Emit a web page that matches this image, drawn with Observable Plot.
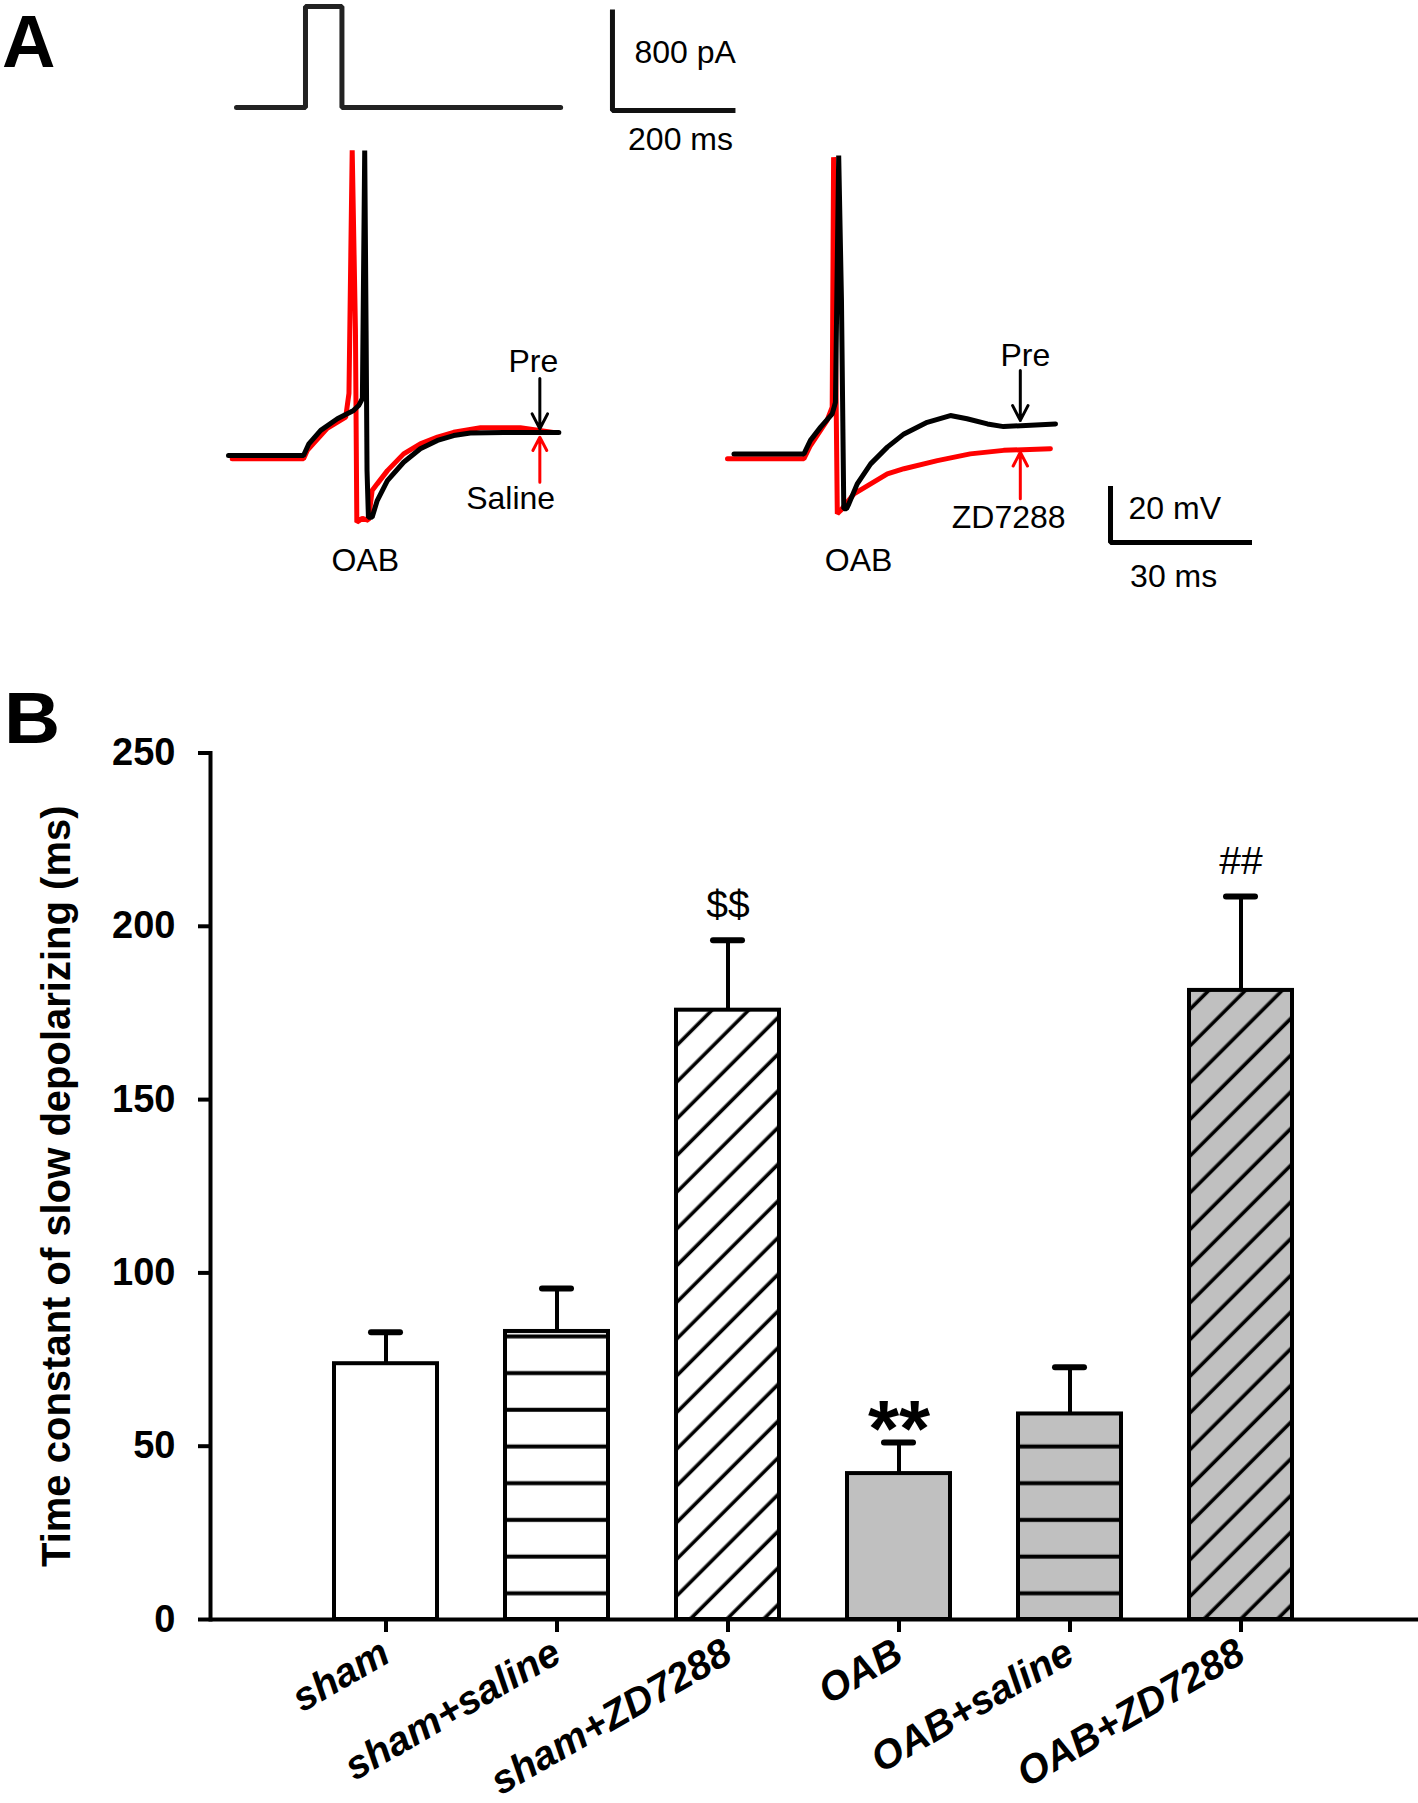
<!DOCTYPE html>
<html>
<head>
<meta charset="utf-8">
<script src="https://cdn.jsdelivr.net/npm/d3@7"></script>
<script src="https://cdn.jsdelivr.net/npm/@observablehq/plot@0.6"></script>
<style>
  body { margin: 0; background: #fff; }
  #fig { position: relative; width: 1418px; height: 1803px; overflow: hidden; background: #fff;
         font-family: "Liberation Sans", Arial, sans-serif; }
  .letter { position: absolute; font-weight: bold; font-family: "Liberation Sans", Arial, sans-serif; color: #000; }
</style>
</head>
<body>
<svg width="0" height="0" style="position:absolute">
  <defs>
    <pattern id="hW" patternUnits="userSpaceOnUse" width="40" height="36.7">
      <rect width="40" height="36.7" fill="#ffffff"/>
      <rect y="30.5" width="40" height="4" fill="#000"/>
    </pattern>
    <pattern id="hG" patternUnits="userSpaceOnUse" width="40" height="36.7">
      <rect width="40" height="36.7" fill="#c0c0c0"/>
      <rect y="30.5" width="40" height="4" fill="#000"/>
    </pattern>
    <pattern id="dW" patternUnits="userSpaceOnUse" width="25.95" height="20" patternTransform="rotate(45)">
      <rect width="25.95" height="20" fill="#ffffff"/>
      <rect x="8.5" width="3.6" height="20" fill="#000"/>
    </pattern>
    <pattern id="dG" patternUnits="userSpaceOnUse" width="25.95" height="20" patternTransform="rotate(45)">
      <rect width="25.95" height="20" fill="#c0c0c0"/>
      <rect x="8.5" width="3.6" height="20" fill="#000"/>
    </pattern>
  </defs>
</svg>
<div id="fig">
  <div class="letter" style="left:2px;top:0px;font-size:74px;line-height:83px;">A</div>
  <div class="letter" style="left:4px;top:686px;font-size:72px;line-height:64px;transform:scaleX(1.08);transform-origin:0 0;">B</div>
</div>
<script>
// ================= DATA =================
// Panel A – stimulus current step
const stimTime    = [0, 114.5, 114.5, 175, 175, 538];   // ms
const stimCurrent = [0, 0, 820, 820, 0, 0];             // pA

// Panel A – left: OAB, Pre (black) vs Saline (red)
const leftPreTime = [0, 16.2, 17.3, 19.9, 23.5, 27.0, 28.1, 28.9, 29.4, 29.7, 29.9, 30.2, 31.0, 32.1, 34.3, 37.8, 41.4, 45.1, 48.6, 52.2, 59.4, 71.3];
const leftPreMv   = [-60, -60, -55.8, -50.7, -46.4, -43.3, -41.5, -38.9, 53, -13.7, -65.6, -82.9, -82.9, -76.7, -69.3, -62.5, -57.5, -54.4, -52.6, -51.7, -51.5, -51.5];
const leftSalTime = [0.8, 16.2, 17.0, 21.3, 25.3, 26.0, 26.7, 27.4, 27.7, 28.9, 30.2, 31.0, 32.1, 34.3, 37.8, 41.4, 45.1, 48.6, 54.4, 63.0, 70.1];
const leftSalMv   = [-61.2, -61.2, -58.1, -49.9, -45.8, -37.0, 53, -13.7, -84.7, -83.3, -84, -73, -70.5, -65.6, -59.4, -55.7, -53.2, -51.4, -49.7, -49.7, -51.5];

// Panel A – right: OAB, Pre (black) vs ZD7288 (red)
const rightPreTime = [1.4, 16.5, 17.9, 20.1, 22.6, 23.3, 24.0, 24.6, 25.1, 25.7, 26.2, 28.0, 30.9, 34.5, 38.1, 43.1, 48.1, 51.7, 56.1, 59.6, 70.8];
const rightPreMv   = [-59.4, -59.4, -54.4, -49.5, -44.6, -40.3, 51.1, -2.6, -79.7, -79.7, -77.9, -70.5, -63.1, -56.9, -52.0, -47.7, -45.2, -46.4, -48.3, -49.3, -48.3];
const rightZdTime  = [0, 16.5, 17.9, 21.5, 22.6, 22.9, 23.7, 24.4, 27.3, 30.9, 34.5, 38.1, 45.3, 52.4, 59.6, 69.7];
const rightZdMv    = [-61.2, -61.2, -56.3, -47.0, -42.1, 50.5, -81.6, -80.4, -74.2, -70.5, -66.8, -64.9, -61.9, -59.4, -58.1, -57.5];

// Panel B – bar chart
const groups = ["sham", "sham+saline", "sham+ZD7288", "OAB", "OAB+saline", "OAB+ZD7288"];
const means  = [73.8, 83.1, 175.8, 42.1, 59.3, 181.5];
const sems   = [9.1, 12.4, 20.2, 9.0, 13.5, 27.1];
const yTicks = [0, 50, 100, 150, 200, 250];
const sigGroups = ["sham+ZD7288", "OAB+ZD7288"];
const sigLabels = ["$$", "##"];
const starGroups = ["OAB"];
const starLabels = ["**"];
const yTitle = "Time constant of slow depolarizing (ms)";

// ================= STYLE / LAYOUT =================
const FONT = "Liberation Sans, Arial, Helvetica, sans-serif";
const RED = "#ff0000";
const barFill = {
  "sham": "#ffffff", "sham+saline": "url(#hW)", "sham+ZD7288": "url(#dW)",
  "OAB": "#c0c0c0", "OAB+saline": "url(#hG)", "OAB+ZD7288": "url(#dG)"
};
const fig = document.getElementById("fig");
const zip = (a, b, ka, kb) => a.map((v, i) => ({[ka]: v, [kb]: b[i]}));

function place(svg, left, top) {
  svg.style.position = "absolute";
  svg.style.left = left + "px";
  svg.style.top = top + "px";
  fig.append(svg);
}

// ---------- stimulus ----------
(function () {
  const pxPerMs = 0.6025, pxPerPA = 0.1231, originX = 236, baseY = 107;
  const left = 200, top = 0, width = 560, height = 170;
  const xd = [(left - originX) / pxPerMs, (left + width - originX) / pxPerMs];
  const yd = [(baseY - (top + height)) / pxPerPA, (baseY - top) / pxPerPA];
  const stim = zip(stimTime, stimCurrent, "t", "i");
  const bar = [{t: 624, i: 775.6}, {t: 624, i: -24.4}, {t: 824, i: -24.4}];
  const svg = Plot.plot({
    width, height, margin: 0,
    x: {domain: xd, axis: null}, y: {domain: yd, axis: null},
    style: {fontFamily: FONT, background: "transparent", overflow: "visible", color: "#000"},
    marks: [
      Plot.line(stim, {x: "t", y: "i", stroke: "#222", strokeWidth: 5, strokeLinejoin: "miter"}),
      Plot.line(bar, {x: "t", y: "i", stroke: "#111", strokeWidth: 5, strokeLinejoin: "miter", strokeLinecap: "square"}),
      Plot.text(["800 pA"], {x: 660.6, y: 446.8, textAnchor: "start", fontSize: 32, fill: "#000"}),
      Plot.text(["200 ms"], {x: 737, y: -260, fontSize: 32, fill: "#000"})
    ]
  });
  place(svg, left, top);
})();

// ---------- voltage traces ----------
const PX_PER_MS = 4.633, PX_PER_MV = 2.7, REST_Y = 455, REST_MV = -60;
function tracePanel({left, top, width, height, originX, pre, drug, arrowT, arrowPre, arrowDrug, labels, startLabels, scaleBar}) {
  const xd = [(left - originX) / PX_PER_MS, (left + width - originX) / PX_PER_MS];
  const yd = [REST_MV + (REST_Y - (top + height)) / PX_PER_MV, REST_MV + (REST_Y - top) / PX_PER_MV];
  const marks = [
    Plot.line(drug, {x: "t", y: "v", stroke: RED, strokeWidth: 5, strokeLinejoin: "miter"}),
    Plot.line(pre, {x: "t", y: "v", stroke: "#000", strokeWidth: 5, strokeLinejoin: "miter"}),
    Plot.arrow([{t: arrowT, a: arrowPre[0], b: arrowPre[1]}], {x1: "t", x2: "t", y1: "a", y2: "b", stroke: "#000", strokeWidth: 3, headLength: 16, headAngle: 55}),
    Plot.arrow([{t: arrowT, a: arrowDrug[0], b: arrowDrug[1]}], {x1: "t", x2: "t", y1: "a", y2: "b", stroke: RED, strokeWidth: 3, headLength: 16, headAngle: 55}),
    Plot.text(labels, {x: "t", y: "v", text: "s", textAnchor: "middle", fontSize: 32, fill: "#000"})
  ];
  if (startLabels) {
    marks.push(Plot.text(startLabels, {x: "t", y: "v", text: "s", textAnchor: "start", fontSize: 32, fill: "#000"}));
  }
  if (scaleBar) {
    const {t0, v0, dt, dv} = scaleBar;
    marks.push(Plot.line([{t: t0, v: v0 + dv}, {t: t0, v: v0}, {t: t0 + dt, v: v0}],
      {x: "t", y: "v", stroke: "#000", strokeWidth: 5, strokeLinejoin: "miter", strokeLinecap: "square"}));
  }
  const svg = Plot.plot({
    width, height, margin: 0,
    x: {domain: xd, axis: null}, y: {domain: yd, axis: null},
    style: {fontFamily: FONT, background: "transparent", overflow: "visible", color: "#000"},
    marks
  });
  place(svg, left, top);
}

tracePanel({
  left: 190, top: 120, width: 420, height: 470, originX: 228,
  pre: zip(leftPreTime, leftPreMv, "t", "v"),
  drug: zip(leftSalTime, leftSalMv, "t", "v"),
  arrowT: 67.2, arrowPre: [-31.5, -50.1], arrowDrug: [-69.9, -53.2],
  labels: [
    {t: 29.5, v: -98.9, s: "OAB"},
    {t: 65.8, v: -25.4, s: "Pre"},
    {t: 60.9, v: -76.1, s: "Saline"}
  ]
});

tracePanel({
  left: 690, top: 120, width: 600, height: 470, originX: 727,
  pre: zip(rightPreTime, rightPreMv, "t", "v"),
  drug: zip(rightZdTime, rightZdMv, "t", "v"),
  arrowT: 63.2, arrowPre: [-28.5, -47], arrowDrug: [-76, -58.8],
  labels: [
    {t: 28.3, v: -98.9, s: "OAB"},
    {t: 64.3, v: -23.0, s: "Pre"},
    {t: 60.7, v: -82.9, s: "ZD7288"},
    {t: 96.3, v: -104.8, s: "30 ms"}
  ],
  startLabels: [
    {t: 86.55, v: -79.6, s: "20 mV"}
  ],
  scaleBar: {t0: 82.67, v0: -92.2, dt: 30, dv: 20}
});

// ---------- Panel B: bar chart ----------
(function () {
  const rows = groups.map((g, i) => ({group: g, mean: means[i], sem: sems[i], top: means[i] + sems[i]}));
  const sig = sigGroups.map((g, i) => ({group: g, label: sigLabels[i], top: rows.find(r => r.group === g).top}));
  const stars = starGroups.map((g, i) => ({group: g, label: starLabels[i], top: rows.find(r => r.group === g).top}));
  const svg = Plot.plot({
    width: 1418, height: 1123,
    marginTop: 72.5, marginBottom: 184, marginLeft: 210, marginRight: 0,
    x: {type: "band", domain: groups, range: [298.3, 1326.7], paddingInner: 0.4, paddingOuter: 0.2, label: null},
    y: {domain: [0, 250], label: null},
    color: {type: "identity"},
    style: {fontFamily: FONT, background: "transparent", overflow: "visible", color: "#000"},
    marks: [
      Plot.barY(rows, {x: "group", y: "mean", fill: d => barFill[d.group], stroke: "#000", strokeWidth: 4}),
      Plot.ruleX(rows, {x: "group", y1: "mean", y2: "top", stroke: "#000", strokeWidth: 4}),
      Plot.tickY(rows, {x: "group", y: "top", stroke: "#000", strokeWidth: 6, strokeLinecap: "round", insetLeft: 37, insetRight: 37}),
      Plot.text(sig, {x: "group", y: "top", text: "label", dy: -35, fontSize: 39, fill: "#000"}),
      Plot.text(stars, {x: "group", y: "top", text: "label", dy: -12, fontSize: 80, fontWeight: "bold", fill: "#000"}),
      Plot.ruleY([0], {stroke: "#000", strokeWidth: 4}),
      Plot.frame({anchor: "left", stroke: "#000", strokeWidth: 4}),
      Plot.axisY({ticks: yTicks, tickSize: 12, tickPadding: 23, strokeWidth: 4, fontSize: 38, fontWeight: "bold", label: null}),
      Plot.axisX({tickSize: 13, strokeWidth: 4, tickRotate: -30, tickPadding: 17, fontSize: 40, fontWeight: "bold", fontStyle: "italic", label: null}),
      Plot.text([yTitle], {frameAnchor: "left", textAnchor: "middle", dx: -153, rotate: -90, fontSize: 40, fontWeight: "bold", fill: "#000"})
    ]
  });
  place(svg, 0, 680);
})();
</script>
</body>
</html>
